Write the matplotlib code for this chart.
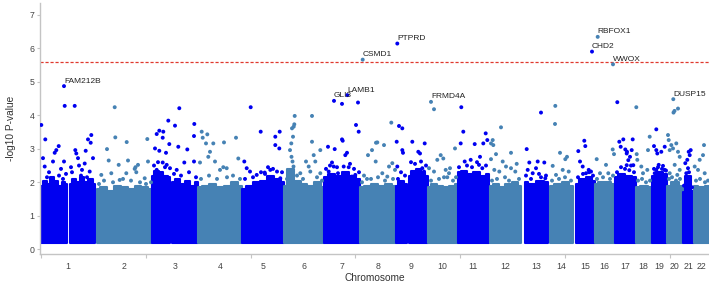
import numpy as np
import matplotlib as mpl
mpl.use('Agg')
import matplotlib.pyplot as plt

plt.rcParams['font.family'] = ['Liberation Sans', 'DejaVu Sans']

# chromosome extents on the x axis (plot units)
chrom_names = [str(i) for i in range(1, 23)]
chrom_start = [0, 55.7, 111, 157, 201, 243, 283, 319, 354.5, 386.5, 416.5,
               448.5, 483.5, 509, 535, 554, 574, 594.5, 611, 626, 641.5, 653]
chrom_end = [53.7, 110.7, 157, 201, 243, 283, 319, 354.5, 386.5, 416.5, 448,
             480, 506.5, 532, 554, 573.5, 594.5, 610.5, 626, 641.5, 653, 667.5]

# dense bulk of SNPs: blocks (chrom, start, end) with the top of the cloud along each block
block_chrom = [1, 1, 2, 3, 3, 4, 5, 6, 7, 8, 9, 9, 10, 11, 12, 13, 14, 15, 16, 17, 18, 19, 20, 21, 22]
block_start = [0, 28.7, 55.7, 111, 131, 157, 201, 243, 283, 319, 354.5, 368, 386.5, 416.5,
               448.5, 483.5, 509, 535, 554, 574, 594.5, 611, 626, 641.5, 653]
block_end = [26.3, 53.7, 110.7, 129, 157, 201, 243, 283, 319, 354.5, 366, 386.5, 416.5, 448,
             480, 506.5, 532, 554, 573.5, 594.5, 610.5, 626, 641.5, 653, 667.5]
block_top = [
    [1.9, 2.05, 1.95, 2.15, 2.05, 1.9, 2.0, 1.95],
    [1.95, 2.1, 2.0, 2.15, 2.0, 2.1, 1.95],
    [1.8, 1.85, 1.75, 1.9, 1.85, 1.8, 1.9, 1.85, 1.8],
    [2.2, 2.35, 2.3, 2.2, 2.15],
    [2.0, 2.1, 1.95, 2.05, 1.9, 2.0],
    [1.85, 1.9, 1.95, 1.85, 1.9, 2.0, 1.9],
    [1.8, 1.9, 2.0, 2.05, 2.2, 2.1, 2.0],
    [1.9, 2.4, 2.05, 1.95, 1.9, 2.0, 1.85],
    [2.15, 2.25, 2.2, 2.3, 2.2, 2.1],
    [1.85, 1.9, 1.95, 1.9, 1.95, 1.9],
    [1.9, 2.05, 1.95],
    [2.2, 2.35, 2.4, 2.3, 2.2],
    [1.85, 1.95, 1.9, 1.85, 1.9, 1.95],
    [2.3, 2.35, 2.25, 2.3, 2.2, 2.25],
    [1.9, 1.95, 1.85, 1.95, 2.0, 1.9],
    [2.0, 1.95, 2.05, 2.0],
    [1.9, 1.95, 2.0, 1.9],
    [1.95, 2.1, 2.15, 2.05],
    [1.95, 2.0, 2.0, 1.95],
    [2.15, 2.25, 2.2, 2.15],
    [1.85, 1.9, 1.85],
    [2.2, 2.3, 2.25],
    [1.9, 2.0, 1.9],
    [1.7, 2.2, 1.75],
    [1.9, 1.85, 1.9],
]
block_bottom = 0.2

# individual SNPs standing out above the bulk
snp_x = [0.3, 4.3, 23.7, 33.7, 17.7, 15.3, 13.7, 2, 50.3, 47, 49.7, 34.3, 35.3, 44.7, 52, 37, 23,
         12, 3.7, 43.7, 41, 48.7, 8, 20, 30, 38, 25, 6, 10, 18, 22, 31, 40, 46, 51,
         73.7, 74.3, 85.7, 106.3, 66, 67.7, 77.7, 87, 97, 107, 93.7, 95.3, 94.5, 60.3, 70.3, 78.7,
         85.3, 103.7, 58, 63, 72, 82, 90, 99, 105, 110,
         138.3, 127.3, 134, 153.3, 115.7, 118.3, 122.3, 121.7, 153, 114, 118.3, 125, 128.3, 137.3,
         146.3, 121.7, 125.7, 129, 135.7, 143.3, 153, 115.7, 113, 117, 124, 133, 140, 148, 155,
         160.7, 166.3, 161.7, 172.3, 183, 195, 169, 167.3, 165, 159, 174, 182.3, 185.7, 197.3, 179,
         160, 168, 176, 186, 192, 199,
         209.7, 219.7, 203.3, 209, 215.7, 224, 205.7, 238.7, 234.3, 238.3, 234.3, 229.3, 236,
         223.7, 239.3, 204, 212, 220, 227, 232, 241,
         253.7, 271, 252.7, 251, 253.3, 252, 250.3, 271, 265, 272.7, 274.3, 279.3, 249, 250.5,
         251.5, 252.5, 267.7, 269.3, 259.3, 279.3, 246, 256, 262, 276, 281,
         301, 317, 315, 317.7, 301, 301.7, 287, 293.7, 306, 304.3, 291, 292.7, 302.7, 307.7, 297,
         287.7, 314.3, 311, 285, 289, 296, 309, 313, 318,
         331, 335, 327, 350.3, 336.3, 343, 351.3, 348, 354, 334.7, 341.3, 346.3, 323, 330,
         321, 326, 337, 344, 352,
         358, 361.3, 355.7, 361.3, 362, 371.3, 383.7, 377.3, 379, 380, 381.3, 383, 356.3, 360,
         357, 364, 370, 374, 385,
         393, 399.7, 402.3, 396.3, 414, 409, 404.7, 388, 393, 408, 406.3, 390, 398, 403, 412, 415,
         420.3, 422.3, 419.7, 423.7, 433.7, 442.3, 446.3, 444.7, 439, 429.7, 438, 441.3,
         418, 426, 431, 436, 445,
         460, 451.7, 450, 452.3, 470, 455, 461.7, 475.7, 470, 465, 458.3, 474.3, 450, 453.3,
         451, 456, 464, 468, 478,
         500, 485.7, 488.3, 496.7, 503.3, 495, 486.7, 500, 491.7, 504.3, 485, 490, 498, 505,
         514.3, 514, 519, 526, 524.3, 511.7, 521.7, 527.7, 515, 511, 518, 524, 530,
         537.3, 543.3, 544.3, 539, 541.7, 547.7, 545, 550, 537, 542, 548, 552,
         555.7, 565, 573, 571.7, 559, 567.3, 556, 562, 569, 572,
         576.3, 578.3, 582.3, 591.7, 579.7, 584.3, 585.7, 587.3, 585.7, 588.3, 592.3, 590.7, 589, 586,
         576, 580, 584, 590, 593,
         595.3, 608.7, 607, 596.3, 600.3, 606.3, 602, 595.7, 597, 601, 605, 609,
         615.3, 613, 615.3, 616.3, 623.7, 620.3, 617.7, 622, 623.7, 615.3, 613.7, 613, 617, 621, 625,
         637, 632.5, 633.5, 627, 627.7, 630.3, 635.3, 637, 638.7, 628.7, 632, 633.7, 638.7, 628.7, 636.3,
         628, 631, 635, 639,
         647.7, 649.7, 648.7, 646.3, 644.3, 647, 645.3, 643, 648, 651,
         663, 662, 658.7, 653.7, 657, 663.7, 655, 659, 664, 667]
snp_y = [3.71, 3.28, 4.28, 4.28, 3.08, 2.96, 2.88, 2.72, 3.41, 3.28, 3.18, 2.96, 2.86, 2.94, 2.72, 2.72, 2.62,
         2.62, 2.47, 2.56, 2.37, 2.32, 2.3, 2.4, 2.45, 2.5, 2.25, 2.15, 2.05, 2.2, 2.1, 2.3, 2.2, 2.15, 2.05,
         4.24, 3.34, 3.2, 3.29, 2.99, 2.65, 2.52, 2.65, 2.52, 2.62, 2.4, 2.3, 2.45, 2.22, 2.27, 2.07,
         2.27, 2.12, 1.95, 2.05, 2.0, 2.1, 2.05, 2.0, 1.95, 2.0,
         4.21, 3.84, 3.69, 3.74, 3.44, 3.54, 3.51, 3.33, 3.38, 3.01, 2.94, 2.88, 3.14, 3.06,
         2.98, 2.59, 2.52, 2.42, 2.37, 2.59, 2.62, 2.37, 2.5, 2.6, 2.45, 2.25, 2.2, 2.3, 2.15,
         3.51, 3.43, 3.33, 3.16, 3.19, 3.33, 2.91, 2.76, 3.16, 2.59, 2.62, 2.45, 2.42, 2.71, 2.37,
         2.1, 2.2, 2.1, 2.15, 2.2, 2.1,
         4.24, 3.51, 2.62, 2.32, 2.22, 2.25, 2.42, 3.51, 3.36, 3.01, 3.11, 2.37, 2.32,
         2.29, 2.12, 2.1, 2.15, 2.3, 2.45, 2.4, 2.3,
         3.98, 3.98, 3.66, 3.61, 3.73, 3.36, 3.16, 3.21, 2.62, 2.81, 2.62, 2.96, 2.96, 2.76,
         2.62, 2.47, 2.47, 2.32, 2.27, 2.27, 2.1, 2.2, 2.1, 2.15, 2.05,
         4.34, 4.38, 3.71, 3.51, 3.28, 3.24, 3.06, 2.99, 2.88, 2.81, 2.59, 2.47, 2.47, 2.45, 2.27,
         2.32, 2.22, 2.17, 2.4, 2.5, 2.45, 2.55, 2.4, 2.3,
         2.96, 3.18, 2.81, 3.78, 3.19, 3.11, 2.57, 2.47, 2.37, 2.62, 2.27, 2.17, 2.2, 2.1,
         2.0, 2.1, 2.15, 2.05, 2.1,
         3.68, 3.61, 3.21, 2.96, 2.88, 3.21, 3.16, 2.91, 2.86, 2.62, 2.42, 2.32, 2.47, 2.3,
         2.1, 2.2, 2.6, 2.55, 2.5,
         4.18, 2.81, 2.71, 2.67, 3.01, 2.42, 2.37, 2.42, 2.32, 2.27, 2.15, 2.05, 2.1, 2.15, 2.05, 2.15,
         4.24, 3.51, 3.16, 2.62, 3.14, 3.16, 3.26, 3.46, 2.76, 2.67, 2.52, 2.42,
         2.45, 2.5, 2.45, 2.6, 2.5,
         3.64, 3.26, 3.16, 3.11, 2.88, 2.84, 2.62, 2.55, 2.42, 2.47, 2.32, 2.32, 2.69, 2.37,
         2.05, 2.1, 2.15, 2.05, 2.1,
         4.08, 2.99, 2.59, 2.62, 2.59, 2.42, 2.37, 2.15, 2.27, 2.12, 2.2, 2.1, 2.25, 2.2,
         4.28, 3.74, 2.88, 2.76, 2.69, 2.49, 2.37, 2.32, 2.22, 2.05, 2.1, 2.15, 2.05,
         2.93, 3.24, 3.08, 2.62, 2.47, 2.37, 2.27, 2.32, 2.15, 2.25, 2.3, 2.2,
         2.69, 2.52, 2.84, 2.98, 2.27, 2.27, 2.1, 2.15, 2.1, 2.2,
         4.39, 3.21, 3.28, 3.28, 3.06, 2.98, 2.86, 2.66, 2.51, 2.36, 2.51, 2.96, 2.76, 2.91,
         2.3, 2.45, 2.4, 2.5, 2.3,
         4.24, 3.36, 2.96, 2.67, 2.47, 2.37, 2.27, 2.84, 2.05, 2.1, 2.0, 2.05,
         3.58, 3.08, 2.96, 2.86, 3.06, 2.91, 2.52, 2.49, 2.37, 2.37, 2.27, 2.4, 2.45, 2.4, 2.35,
         4.2, 4.08, 4.13, 3.41, 3.26, 3.11, 3.16, 2.91, 2.76, 2.96, 3.01, 2.52, 2.37, 2.27, 2.22,
         2.1, 2.15, 2.05, 2.1,
         2.91, 2.96, 2.81, 2.67, 2.57, 2.42, 2.27, 1.9, 2.3, 1.85,
         3.11, 2.81, 2.67, 2.47, 2.37, 2.27, 2.05, 2.1, 2.0, 2.05]

# annotated top hits
hit_genes = ['FAM212B', 'GLI3', 'LAMB1', 'CSMD1', 'PTPRD', 'FRMD4A', 'CHD2', 'RBFOX1', 'WWOX', 'DUSP15']
hit_x = [23, 293, 306.3, 321.7, 356.3, 390, 551, 556.7, 572, 632.3]
hit_y = [4.87, 4.43, 4.60, 5.66, 6.14, 4.40, 5.90, 6.34, 5.52, 4.48]

threshold = 5.58

col_odd = '#0000F0'
col_even = '#4682B4'


def chrom_color(x):
    idx = np.searchsorted(chrom_end, x)
    idx = np.clip(idx, 0, len(chrom_end) - 1)
    return np.where(idx % 2 == 0, col_odd, col_even)


fig = plt.figure(figsize=(7.09, 2.85), dpi=100)
ax = fig.add_axes([40 / 709, 31 / 285, 669 / 709, 251 / 285])

for c, s, e, top in zip(block_chrom, block_start, block_end, block_top):
    col = col_odd if c % 2 == 1 else col_even
    xs = np.linspace(s, e, len(top))
    ax.fill_between(xs, block_bottom, top, step='mid', color=col, lw=1.5,
                    edgecolor=col, joinstyle='round', zorder=2)

all_x = np.array(snp_x + hit_x)
all_y = np.array(snp_y + hit_y)
ax.scatter(all_x, all_y, s=8, c=chrom_color(all_x), linewidths=0, zorder=3)

for g, x, y in zip(hit_genes, hit_x, hit_y):
    ax.annotate(g, (x, y), xytext=(0, 3.6), textcoords='offset points',
                ha='left', va='center', fontsize=6, color='#222222', zorder=4)

ax.axhline(threshold, color='#E0392E', lw=0.9, linestyle=(0, (2.5, 1.5)), zorder=1)

ax.set_xlim(-1, 668)
ax.set_ylim(-0.14, 7.35)

for side in ['top', 'right']:
    ax.spines[side].set_visible(False)
for side in ['left', 'bottom']:
    ax.spines[side].set_color('#C4C4C4')
    ax.spines[side].set_linewidth(1.0)

ax.set_yticks(range(0, 8))
ax.tick_params(axis='y', length=2.5, width=0.8, color='#C4C4C4', pad=1.5,
               labelsize=6.3, labelcolor='#444444')

centers = [(s + e) / 2 for s, e in zip(chrom_start, chrom_end)]
ax.set_xticks(np.arange(0, 668, 104.8))
ax.set_xticklabels([])
ax.tick_params(axis='x', which='major', length=3, width=0.8, color='#C4C4C4')
ax.set_xticks(centers, minor=True)
ax.set_xticklabels(chrom_names, minor=True)
ax.tick_params(axis='x', which='minor', length=0, pad=6, labelsize=6.3, labelcolor='#444444')

ax.set_xlabel('Chromosome', fontsize=7.3, color='#333333', labelpad=1)
ax.set_ylabel('-log10 P-value', fontsize=7.3, color='#333333', labelpad=10)

plt.savefig('out.png', dpi=100)
